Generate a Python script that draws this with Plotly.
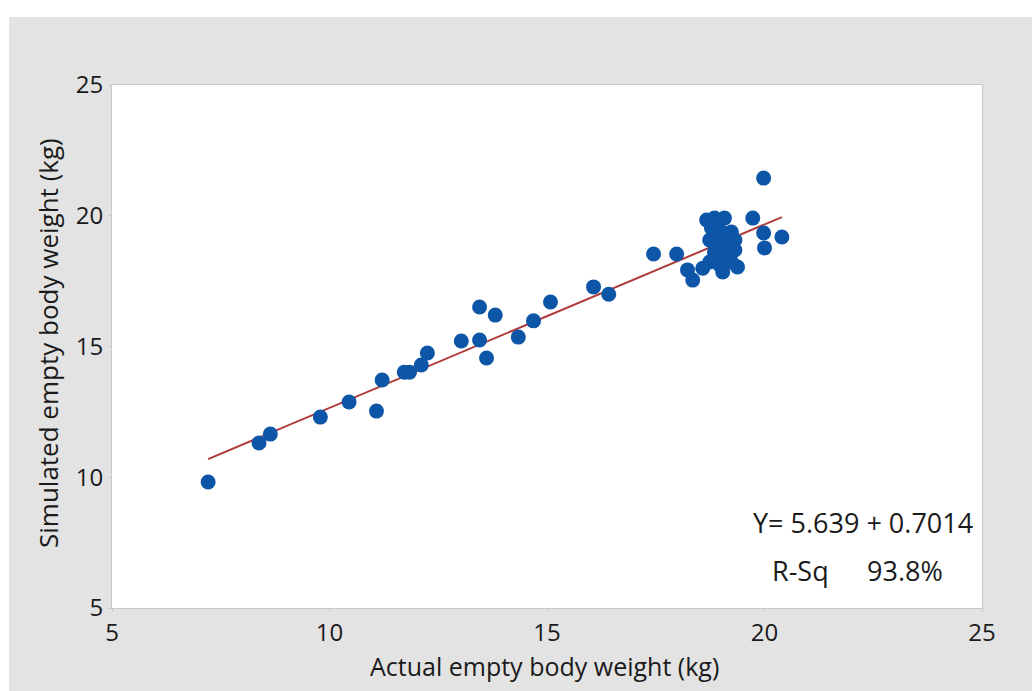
import plotly.graph_objects as go

actual = [7.21, 8.38, 8.64, 9.79, 10.45, 11.08, 11.21, 11.72, 11.84, 12.11, 12.25,
          13.03, 13.45, 13.45, 13.61, 13.81, 14.34, 14.69, 15.08, 16.07, 16.42,
          17.45, 17.98, 18.23, 18.35, 18.58, 19.04, 19.38, 19.73, 19.98, 19.98, 20.0, 20.40,
          18.67, 18.85, 19.08, 18.78, 19.02, 19.24, 18.74, 18.97, 19.2, 19.32,
          18.85, 19.08, 19.32, 18.74, 18.97, 19.24, 18.93]
simulated = [9.82, 11.31, 11.65, 12.30, 12.88, 12.53, 13.72, 14.02, 14.02, 14.29, 14.75,
             15.21, 15.25, 16.51, 14.56, 16.20, 15.36, 15.98, 16.70, 17.28, 17.00,
             18.54, 18.54, 17.93, 17.54, 17.99, 17.85, 18.04, 19.91, 21.44, 19.34, 18.77, 19.19,
             19.84, 19.91, 19.91, 19.53, 19.38, 19.38, 19.07, 19.00, 19.00, 19.07,
             18.61, 18.50, 18.69, 18.23, 18.12, 18.23, 19.46]

intercept = 5.639
slope = 0.7014
fit_x = [min(actual), max(actual)]
fit_y = [intercept + slope * v for v in fit_x]

tick_vals = [5, 10, 15, 20, 25]
x_title = "Actual empty body weight (kg)"
y_title = "Simulated empty body weight (kg)"
eq_text = "Y= 5.639 + 0.7014"
rsq_label = "R-Sq"
rsq_value = "93.8%"

FONT = "Open Sans, Noto Sans, sans-serif"
GRAY = "#e3e3e3"
TXT = "#1a1a1a"

fig = go.Figure()
fig.add_trace(go.Scatter(x=fit_x, y=fit_y, mode="lines",
                         line=dict(color="#b03a3a", width=2), showlegend=False))
fig.add_trace(go.Scatter(x=actual, y=simulated, mode="markers",
                         marker=dict(color="#0d55a6", size=15, line=dict(width=0)),
                         showlegend=False))

W, H = 1032, 691
L, R, T, B = 112, 50, 85, 83
pw, ph = W - L - R, H - T - B

def px_x(p):
    return (p - L) / pw

def px_y(p):
    return (H - B - p) / ph

shapes = [
    dict(type="rect", xref="paper", yref="paper", x0=px_x(0), x1=px_x(W),
         y0=px_y(17), y1=px_y(0), fillcolor="white", line=dict(width=0), layer="below"),
    dict(type="rect", xref="paper", yref="paper", x0=px_x(0), x1=px_x(9),
         y0=px_y(H), y1=px_y(0), fillcolor="white", line=dict(width=0), layer="below"),
]

axis_common = dict(
    range=[5, 25], tickvals=tick_vals, showgrid=False, zeroline=False,
    showline=True, linecolor="#c8c8c8", linewidth=1, mirror=True,
    ticks="outside", ticklen=3, tickcolor="#c8c8c8",
    tickfont=dict(family=FONT, size=24, color=TXT),
)

def note(text, x, y, size=27, angle=0):
    return dict(xref="paper", yref="paper", x=px_x(x), y=px_y(y), text=text,
                showarrow=False, font=dict(family=FONT, size=size, color=TXT),
                xanchor="center", yanchor="middle", textangle=angle)

fig.update_layout(
    width=W, height=H,
    margin=dict(l=L, r=R, t=T, b=B, pad=0),
    paper_bgcolor=GRAY, plot_bgcolor="white",
    shapes=shapes,
    xaxis=dict(**axis_common),
    yaxis=dict(**axis_common),
    annotations=[
        note(x_title, 544, 666, size=25),
        note(y_title, 48, 343, size=26, angle=-90),
        note(eq_text, 863, 522),
        note(rsq_label, 800, 570),
        note(rsq_value, 905, 570),
    ],
)

fig.write_html("out.html")
